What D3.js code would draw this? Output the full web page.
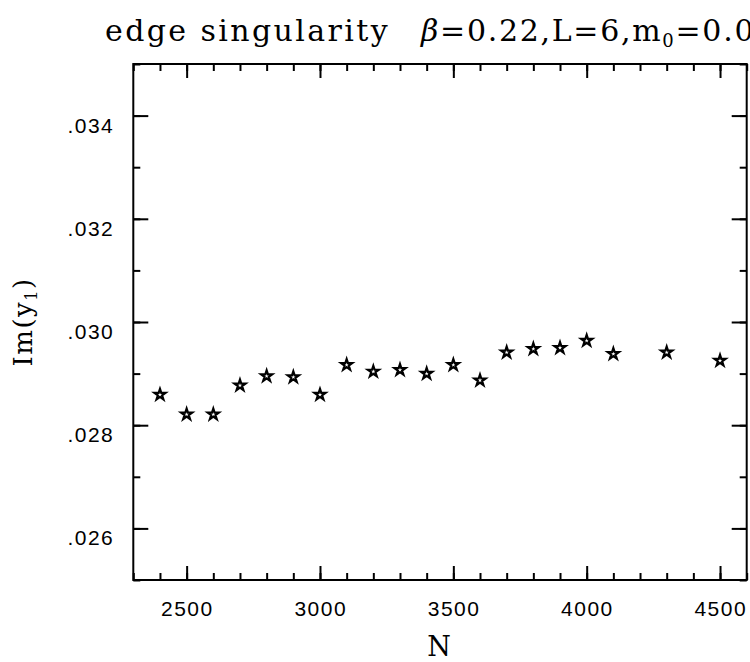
<!DOCTYPE html>
<html><head><meta charset="utf-8">
<script src="https://cdn.jsdelivr.net/npm/d3@7"></script>
<style>html,body{margin:0;padding:0;background:#fff;overflow:hidden}</style>
</head><body>
<svg id="c" width="750" height="662"></svg>
<script>
const Nvals = [2400,2500,2600,2700,2800,2900,3000,3100,3200,3300,3400,3500,3600,3700,3800,3900,4000,4100,4300,4500];
const imY1 = [0.02859,0.02821,0.02821,0.02877,0.02895,0.02893,0.02859,0.02917,0.02904,0.02907,0.02900,0.02917,0.02887,0.02941,0.02948,0.02950,0.02964,0.02938,0.02941,0.02925];
const xMajor = [2500,3000,3500,4000,4500];
const xMinor = d3.range(2300,4601,100);
const yMajor = [0.026,0.028,0.030,0.032,0.034];
const yMinor = d3.range(25,35.5,1).map(v=>v/1000);
const yLabels = [".026",".028",".030",".032",".034"];

const L=133.3,R=746.7,T=64,B=580;
const svg=d3.select("#c");
const x=d3.scaleLinear().domain([2300,4600]).range([L,R]);
const y=d3.scaleLinear().domain([0.025,0.035]).range([B,T]);

function axisTicks(g, axis, vals, len){
  g.call(axis.tickValues(vals).tickSize(len).tickFormat(""));
  g.select(".domain").remove();
  g.selectAll("line").attr("stroke","#000").attr("stroke-width",2);
}
// bottom
svg.append("g").attr("transform",`translate(0,${B})`).call(g=>axisTicks(g,d3.axisTop(x),xMinor,7));
svg.append("g").attr("transform",`translate(0,${B})`).call(g=>axisTicks(g,d3.axisTop(x),xMajor,14));
// top
svg.append("g").attr("transform",`translate(0,${T})`).call(g=>axisTicks(g,d3.axisBottom(x),xMinor,7));
svg.append("g").attr("transform",`translate(0,${T})`).call(g=>axisTicks(g,d3.axisBottom(x),xMajor,14));
// left
svg.append("g").attr("transform",`translate(${L},0)`).call(g=>axisTicks(g,d3.axisRight(y),yMinor,7));
svg.append("g").attr("transform",`translate(${L},0)`).call(g=>axisTicks(g,d3.axisRight(y),yMajor,15));
// right
svg.append("g").attr("transform",`translate(${R},0)`).call(g=>axisTicks(g,d3.axisLeft(y),yMinor,7));
svg.append("g").attr("transform",`translate(${R},0)`).call(g=>axisTicks(g,d3.axisLeft(y),yMajor,15));

svg.append("rect").attr("x",L).attr("y",T).attr("width",R-L).attr("height",B-T)
  .attr("fill","none").attr("stroke","#000").attr("stroke-width",2);

// tick labels
svg.append("g").selectAll("text").data(xMajor).join("text")
  .attr("x",d=>x(d)+0.75).attr("y",616).attr("text-anchor","middle")
  .attr("font-family","Liberation Sans, Arial, sans-serif").attr("font-size",21)
  .attr("letter-spacing",1.5)
  .text(d=>d);
svg.append("g").selectAll("text").data(yMajor).join("text")
  .attr("x",L-19).attr("y",d=>y(d)+17).attr("text-anchor","end")
  .attr("font-family","Liberation Sans, Arial, sans-serif").attr("font-size",21)
  .attr("letter-spacing",1.5)
  .text((d,i)=>yLabels[i]);

// points
svg.append("g").selectAll("path").data(Nvals).join("path")
  .attr("transform",(d,i)=>`translate(${x(d)},${y(imY1[i])})`)
  .attr("d",d3.symbol(d3.symbolStar,38))
  .attr("fill","#fff").attr("stroke","#000").attr("stroke-width",2.2).attr("stroke-linejoin","miter");

// axis titles
svg.append("text").attr("x",439).attr("y",656).attr("text-anchor","middle")
  .attr("font-family","DejaVu Serif, serif").attr("font-size",27).text("N");
const yl=svg.append("text").attr("transform","translate(32,322) rotate(-90)").attr("text-anchor","middle")
  .attr("font-family","DejaVu Serif, serif").attr("font-size",26).attr("letter-spacing",1.5);
yl.append("tspan").text("Im(y");
yl.append("tspan").attr("font-size",16).attr("dy",5).text("1");
yl.append("tspan").attr("dy",-5).text(")");

// title
const t1=svg.append("text").attr("x",105).attr("y",41)
  .attr("font-family","DejaVu Serif, serif").attr("font-size",30).attr("letter-spacing",2.4);
t1.text("edge singularity");
const t2=svg.append("text").attr("x",421).attr("y",41)
  .attr("font-family","DejaVu Serif, serif").attr("font-size",30).attr("letter-spacing",1.7);
t2.append("tspan").attr("font-style","italic").text("β");
t2.append("tspan").text("=0.22,L=6,m");
t2.append("tspan").attr("font-size",18).attr("dy",6).text("0");
t2.append("tspan").attr("dy",-6).text("=0.0");
</script>
</body></html>
